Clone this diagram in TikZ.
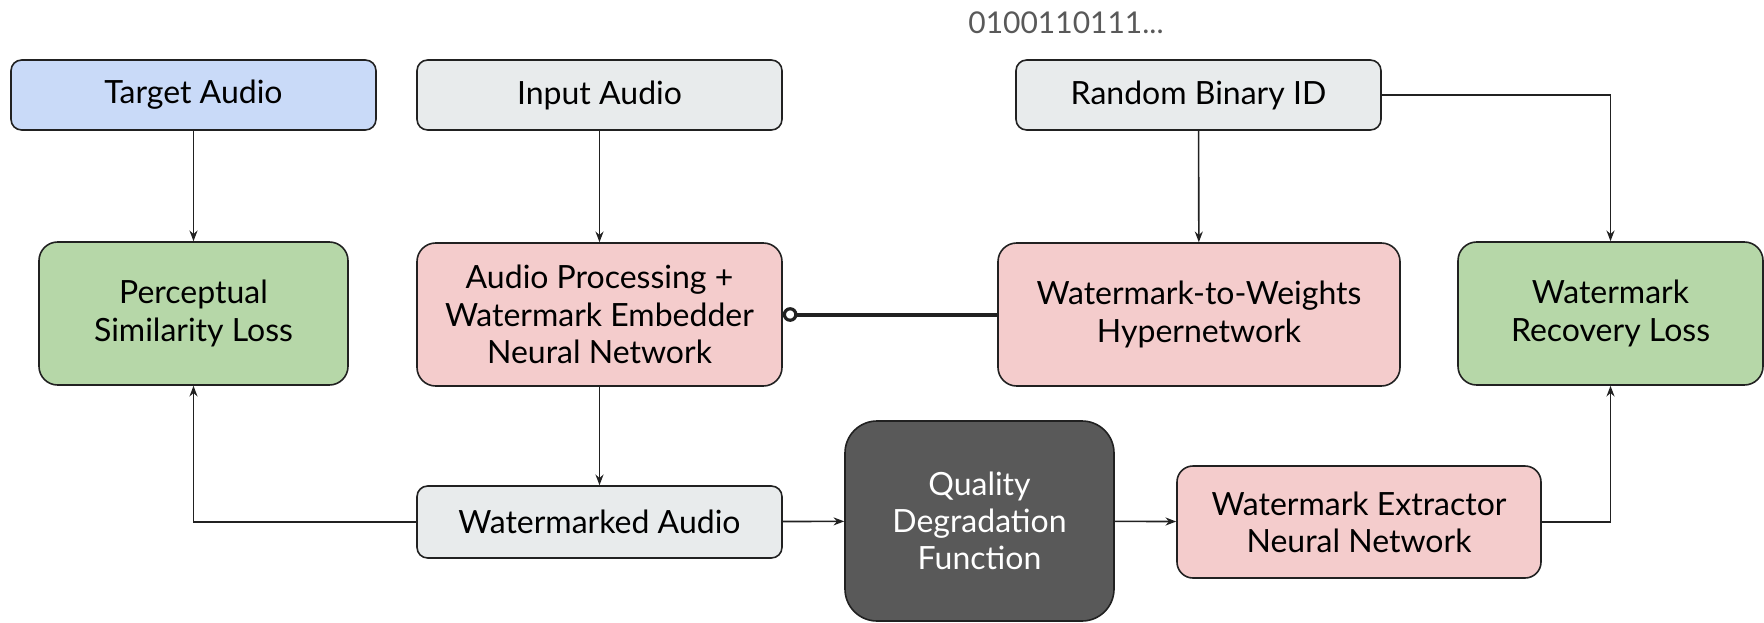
\documentclass[tikz,border=0pt]{standalone}
\usepackage{fontspec}
\setmainfont{Lato}
\usetikzlibrary{arrows.meta,positioning}
\definecolor{cblue}{HTML}{C9DAF8}
\definecolor{cgray}{HTML}{E8EBEC}
\definecolor{cpink}{HTML}{F4CCCC}
\definecolor{cgreen}{HTML}{B6D7A8}
\definecolor{cdark}{HTML}{595959}
\definecolor{cline}{HTML}{212121}
\definecolor{cbits}{HTML}{595959}
\tikzset{
  box/.style={draw=cline, line width=1.2pt, rounded corners=8pt, align=center,
    font=\fontsize{24}{28}\selectfont, text=black, inner sep=0pt},
  smallbox/.style={box, minimum width=273.75pt, minimum height=52.5pt},
  conn/.style={draw=cline, line width=1.2pt, -{Stealth[length=8pt,width=6pt]}},
  link/.style={draw=cline, line width=3pt, {Circle[open,length=11pt,width=11pt,line width=2.4pt]}-},
}
\begin{document}
\begin{tikzpicture}[x=0.75pt,y=-0.75pt]
\useasboundingbox (0,0) rectangle (1764,622);
\node[font=\fontsize{22.5}{27}\selectfont, text=cbits] (bits) at (1066,23) {0100110111...};
\node[smallbox, fill=cblue] (target) at (193.5,95) {Target Audio};
\node[smallbox, fill=cgray] (input) at (599.5,95) {Input Audio};
\node[smallbox, fill=cgray] (rbid) at (1198.5,95) {Random Binary ID};
\node[box, fill=cgreen, rounded corners=14pt, minimum width=231.75pt, minimum height=107.25pt] (percept) at (193.5,313.5) {Perceptual\\Similarity Loss};
\node[box, fill=cpink, rounded corners=14pt, minimum width=273.75pt, minimum height=107.25pt] (embed) at (599.5,314.5) {Audio Processing +\\Watermark Embedder\\Neural Network};
\node[box, fill=cpink, rounded corners=14pt, minimum width=301.5pt, minimum height=107.25pt] (hyper) at (1199,314.5) {Watermark-to-Weights\\Hypernetwork};
\node[box, fill=cgreen, rounded corners=14pt, minimum width=228.75pt, minimum height=107.25pt] (recovery) at (1610.5,313.5) {Watermark\\Recovery Loss};
\node[smallbox, fill=cgray, minimum height=54pt] (wmaudio) at (599.5,522) {Watermarked Audio};
\node[box, fill=cdark, text=white, rounded corners=24pt, minimum width=201.75pt, minimum height=150pt] (quality) at (979.5,521) {Quality\\Degradation\\Function};
\node[box, fill=cpink, rounded corners=12pt, minimum width=273pt, minimum height=84pt] (extractor) at (1359,522) {Watermark Extractor\\Neural Network};

\draw[conn] (target) -- (percept);
\draw[conn] (input) -- (embed);
\draw[conn] (rbid) -- (hyper);
\draw[conn] (rbid.east) -| (recovery.north);
\draw[conn] (embed) -- (wmaudio);
\draw[conn] (wmaudio.west) -| (percept.south);
\draw[conn] (wmaudio) -- (quality);
\draw[conn] (quality) -- (extractor);
\draw[conn] (extractor.east) -| (recovery.south);
\draw[link] (embed.east) -- (hyper.west);
\end{tikzpicture}
\end{document}
